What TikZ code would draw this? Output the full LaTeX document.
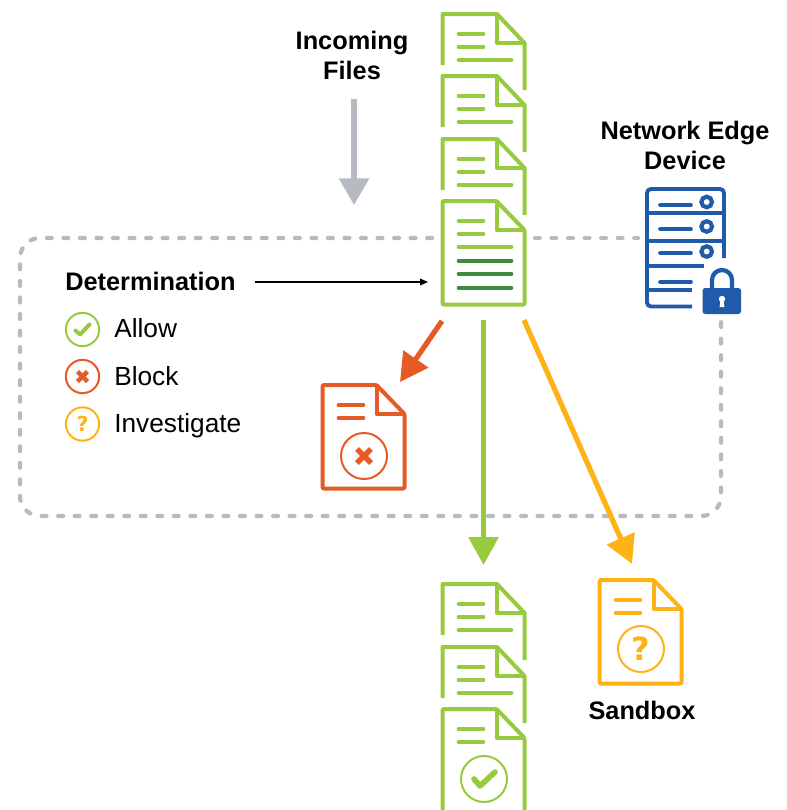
\documentclass[tikz,border=0pt]{standalone}
\usepackage{fontspec}
\setmainfont{Liberation Sans}
\newfontfamily\qfont{DejaVu Sans}
\usetikzlibrary{arrows.meta,calc}
\definecolor{cgreen}{HTML}{97CA3F}
\definecolor{cdark}{HTML}{3E8A3F}
\definecolor{cred}{HTML}{E65A26}
\definecolor{cyel}{HTML}{FDB216}
\definecolor{cblue}{HTML}{1F5BA8}
\definecolor{cgray}{HTML}{B6BBC2}
\tikzset{
  x=0.75pt,y=-0.75pt,
  docline/.style={line width=3pt,line join=round},
  txtline/.style={line width=2.7pt,line cap=round},
  thinc/.style={line width=1.5pt},
  boldlabel/.style={font=\fontsize{19}{22.5}\selectfont\bfseries,align=center,inner sep=0pt},
  leglabel/.style={font=\fontsize{19.7}{22}\selectfont,anchor=base west,inner sep=0pt},
  bigarrow/.style={line width=3.9pt},
  dashbox/.style={cgray,line width=3.2pt,line cap=round,dash pattern=on 3.6pt off 8.8pt},
  checkm/.style={line width=3pt,line cap=round,line join=round},
  crossm/.style={line width=3.2pt},
}
% partial stacked document: x0,y0,colour
\newcommand{\stackdoc}[3]{%
  \draw[docline,#3] (#1,#2+51) -- (#1,#2) -- (#1+54.5,#2) -- (#1+82,#2+29) -- (#1+82,#2+76);
  \draw[docline,#3] (#1+54.5,#2) -- (#1+54.5,#2+29) -- (#1+82,#2+29);
  \draw[txtline,#3] (#1+16,#2+20) -- (#1+41,#2+20);
  \draw[txtline,#3] (#1+16,#2+33) -- (#1+41,#2+33);
  \draw[txtline,#3] (#1+16,#2+46) -- (#1+69,#2+46);
}
% full outline of a document with fold: x0,y0,colour
\newcommand{\fulldoc}[3]{%
  \draw[docline,#3,rounded corners=0.8pt] (#1,#2) -- (#1+54,#2) -- (#1+82,#2+29) -- (#1+82,#2+103.5) -- (#1,#2+103.5) -- cycle;
  \draw[docline,#3] (#1+54,#2) -- (#1+54,#2+29) -- (#1+82,#2+29);
  \draw[txtline,#3] (#1+16,#2+20) -- (#1+41,#2+20);
  \draw[txtline,#3] (#1+16,#2+33) -- (#1+41,#2+33);
}
\begin{document}
\begin{tikzpicture}
\useasboundingbox (0,0) rectangle (787,810);
\clip (0,0) rectangle (787,810);
% coordinates
\coordinate (dashA) at (432,238);
\coordinate (dashB) at (20,238);
\coordinate (dashC) at (20,516);
\coordinate (dashD) at (721,516);
\coordinate (dashE) at (721,322);
\coordinate (dashF) at (535,238);
\coordinate (dashG) at (638,238);
\coordinate (inS) at (354,99);
\coordinate (inE) at (354,205);
\coordinate (redS) at (442,321);
\coordinate (redE) at (400,382);
\coordinate (grnS) at (483.5,320);
\coordinate (grnE) at (483.5,565);
\coordinate (yelS) at (524,320);
\coordinate (yelE) at (632,564);
% dashed boundary
\draw[dashbox,rounded corners=15] (dashA) -- (dashB) -- (dashC) -- (dashD) -- (dashE);
\draw[dashbox] (dashF) -- (dashG);
% incoming stack
\stackdoc{442.5}{14}{cgreen}
\stackdoc{442.5}{76}{cgreen}
\stackdoc{442.5}{139}{cgreen}
\fulldoc{442.5}{201}{cgreen}
\draw[txtline,cgreen] (458.5,247) -- (511.5,247);
\draw[txtline,cdark] (458.5,261) -- (511.5,261);
\draw[txtline,cdark] (458.5,274) -- (511.5,274);
\draw[txtline,cdark] (458.5,288) -- (511.5,288);
% labels
\node[boldlabel] (incoming) at (352,55) {Incoming\\Files};
\node[boldlabel] (network) at (685,145) {Network Edge\\Device};
\node[boldlabel] (sandbox) at (642,710) {Sandbox};
\node[boldlabel,anchor=west] (determination) at (65,281) {Determination};
\coordinate (detE) at (428,282);
\draw[line width=1.1pt,-{Triangle[length=6pt,width=5pt]}] (255,282) -- (detE);
% arrows
\draw[bigarrow,cgray,-{Triangle[length=20pt,width=22pt]}] (inS) -- (inE);
\draw[bigarrow,cred,-{Triangle[length=21pt,width=22pt]}] (redS) -- (redE);
\draw[bigarrow,cgreen,-{Triangle[length=21pt,width=22pt]}] (grnS) -- (grnE);
\draw[bigarrow,cyel,-{Triangle[length=21pt,width=22pt]}] (yelS) -- (yelE);
% legend
\node[circle,draw=cgreen,thinc,minimum size=25pt,inner sep=0pt] (lgA) at (82.5,329.5) {};
\draw[checkm,cgreen] ($(lgA)+(-7,1)$) -- ($(lgA)+(-2.5,5)$) -- ($(lgA)+(7,-5)$);
\node[circle,draw=cred,thinc,minimum size=25pt,inner sep=0pt] (lgB) at (82.5,376.5) {};
\draw[crossm,cred] ($(lgB)+(-5,-5)$) -- ($(lgB)+(5,5)$);
\draw[crossm,cred] ($(lgB)+(5,-5)$) -- ($(lgB)+(-5,5)$);
\node[circle,draw=cyel,thinc,minimum size=25pt,inner sep=0pt,text=cyel,font=\qfont\fontsize{15.5}{15.5}\selectfont\bfseries] (lgC) at (82.5,424) {?};
\node[leglabel] (tA) at (114,337) {Allow};
\node[leglabel] (tB) at (114,385) {Block};
\node[leglabel] (tC) at (114,432) {Investigate};
% blocked doc
\fulldoc{322.5}{385}{cred}
\node[circle,draw=cred,thinc,minimum size=34.5pt,inner sep=0pt] (blk) at (364,456) {};
\draw[crossm,cred,line width=4.2pt] ($(blk)+(-7,-7)$) -- ($(blk)+(7,7)$);
\draw[crossm,cred,line width=4.2pt] ($(blk)+(7,-7)$) -- ($(blk)+(-7,7)$);
% sandbox doc
\fulldoc{599.5}{580}{cyel}
\node[circle,draw=cyel,thinc,minimum size=34.5pt,inner sep=0pt,text=cyel,font=\qfont\fontsize{24}{24}\selectfont\bfseries] (qst) at (641,649) {?};
% allowed stack
\stackdoc{442.5}{584}{cgreen}
\stackdoc{442.5}{647}{cgreen}
\fulldoc{442.5}{709}{cgreen}
\node[circle,draw=cgreen,thinc,minimum size=34.5pt,inner sep=0pt] (chk) at (484,779) {};
\draw[checkm,cgreen,line width=4.2pt] ($(chk)+(-10,0)$) -- ($(chk)+(-4,7)$) -- ($(chk)+(11,-7)$);
% server
\draw[line width=2.9pt,cblue,rounded corners=3pt] (692,306.5) -- (647,306.5) -- (647,189) -- (724,189) -- (724,258);
\draw[line width=2.9pt,cblue] (647,213) -- (724,213);
\draw[line width=2.9pt,cblue] (647,241) -- (724,241);
\draw[line width=2.9pt,cblue] (647,266) -- (704,266);
\draw[line width=2.9pt,cblue] (647,290) -- (692,290);
\foreach \yy in {205,229,253,282} \draw[txtline,cblue] (660,\yy) -- (691,\yy);
\foreach \yy in {202,226.5,251.5} \draw[line width=3.1pt,cblue] (706.7,\yy) circle[radius=5.3];
% lock
\fill[cblue,rounded corners=2pt] (702.5,288) rectangle (741,314);
\draw[line width=3.2pt,cblue] (712,289) -- (712,280) arc[start angle=180,end angle=360,radius=10] -- (732,289);
\fill[white] (722,299) circle[radius=3.2];
\fill[white] (720.6,299) -- (723.4,299) -- (724.4,307) -- (719.6,307) -- cycle;
\end{tikzpicture}
\end{document}
